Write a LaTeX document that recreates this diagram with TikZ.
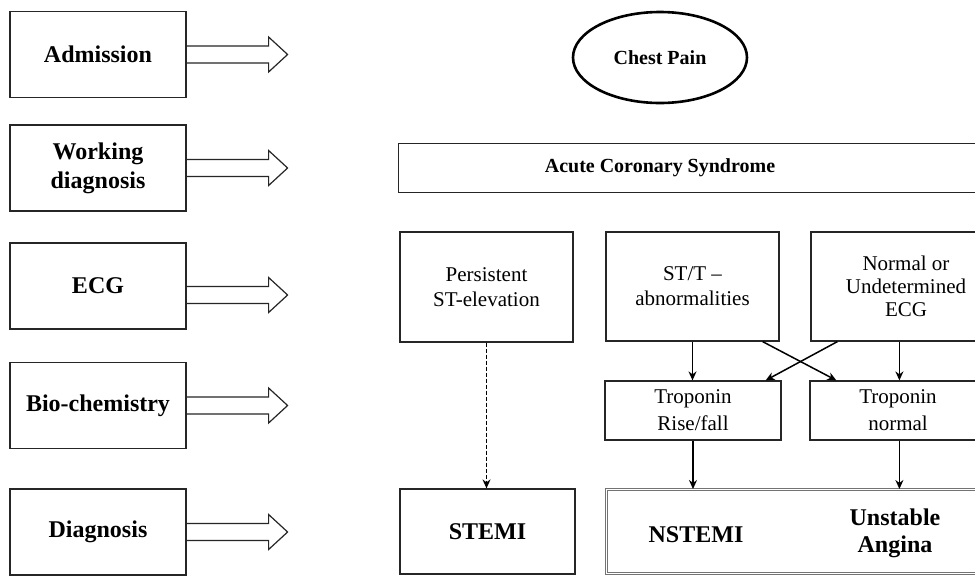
\documentclass[tikz,border=0pt]{standalone}
\usepackage{fontspec}
\setmainfont{Liberation Serif}
\usetikzlibrary{calc,arrows.meta,shapes.geometric}
\begin{document}
\begin{tikzpicture}[x=1pt,y=-1pt,
  box/.style={draw=black!85,line width=1.2pt,inner sep=0pt,align=center},
  leftbox/.style={box,minimum width=176pt,minimum height=86pt,font=\fontsize{24}{29}\selectfont\bfseries},
  regtxt/.style={font=\fontsize{21}{25}\selectfont},
  bigtxt/.style={font=\fontsize{24}{27}\selectfont\bfseries},
  dblarrow/.style={draw=black!85,line width=1.2pt,line join=miter},
  conn/.style={line width=1.5pt,-{Stealth[length=9pt,width=8pt]}},
]
\clip (0,0) rectangle (975,576);
\fill[white] (0,0) rectangle (975,576);
% left column
\node[leftbox] (adm) at (98,54.5) {Admission};
\node[leftbox] (wd) at (98,168) {Working\\diagnosis};
\node[leftbox] (ecg) at (98,286) {ECG};
\node[leftbox] (bio) at (98,405.5) {Bio-chemistry};
\node[leftbox] (dx) at (98,532) {Diagnosis};
\foreach \n/\d in {adm/0,wd/0,ecg/9,bio/0,dx/0}
  \draw[dblarrow] ($(\n.east)+(0,\d-8.5)$) -- ++(82,0) -- ++(0,-9) -- ++(19,17.5) -- ++(-19,17.5) -- ++(0,-9) -- ++(-82,0);
% right part
\node[draw=black,line width=2.6pt,ellipse,minimum width=174pt,minimum height=91pt,inner sep=0pt,font=\fontsize{20}{24}\selectfont\bfseries] (cp) at (660,57.5) {Chest Pain};
\node[box,minimum width=600pt,minimum height=49pt,anchor=north west] (acs) at (398,143) {};
\node[font=\fontsize{20}{24}\selectfont\bfseries] (acstxt) at (660,168) {Acute Coronary Syndrome};
\node[box,regtxt,minimum width=173pt,minimum height=110pt] (pers) at (486.5,287) {Persistent\\ST-elevation};
\node[box,regtxt,minimum width=173pt,minimum height=109pt] (stt) at (692.5,286.5) {ST/T –\\abnormalities};
\node[box,regtxt,minimum width=190pt,minimum height=109pt,font=\fontsize{21}{23}\selectfont] (norm) at (906,286.5) {Normal or\\Undetermined\\ECG};
\node[box,regtxt,minimum width=176pt,minimum height=59pt,font=\fontsize{21}{27}\selectfont] (tr) at (693,410.5) {Troponin\\Rise/fall};
\node[box,regtxt,minimum width=176pt,minimum height=59pt,font=\fontsize{21}{27}\selectfont] (tn) at (898,410.5) {Troponin\\normal};
\node[box,bigtxt,minimum width=175pt,minimum height=85pt] (stemi) at (487.5,531.5) {STEMI};
\node[draw=black!55,double=white,double distance=1.6pt,line width=0.9pt,minimum width=400pt,minimum height=84pt,anchor=north west,inner sep=0pt] (nu) at (606,489) {};
\node[bigtxt] (nstemi) at (696,535) {NSTEMI};
\node[bigtxt,align=center] (ua) at (895,533.5) {Unstable\\Angina};
% helper coordinates
\coordinate (normout) at ($(norm.south west)+(89,0)$);
\coordinate (tnin) at ($(tn.north west)+(90,0)$);
\coordinate (tnout) at ($(tn.south west)+(90,0)$);
\coordinate (sttx) at ($(stt.south east)+(-17,0)$);
\coordinate (tnx) at ($(tn.north west)+(27,0)$);
\coordinate (normx) at ($(norm.south west)+(27,0)$);
\coordinate (trx) at ($(tr.north east)+(-16,0)$);
% connectors
\draw[conn,dash pattern=on 4pt off 2pt] (pers.south) -- (pers.south |- stemi.north);
\draw[conn] (stt.south) -- (stt.south |- tr.north);
\draw[conn] (normout) -- (tnin);
\draw[conn] (sttx) -- (tnx);
\draw[conn] (normx) -- (trx);
\draw[conn] (tr.south) -- (tr.south |- nu.north);
\draw[conn] (tnout) -- (tnout |- nu.north);
\end{tikzpicture}
\end{document}
